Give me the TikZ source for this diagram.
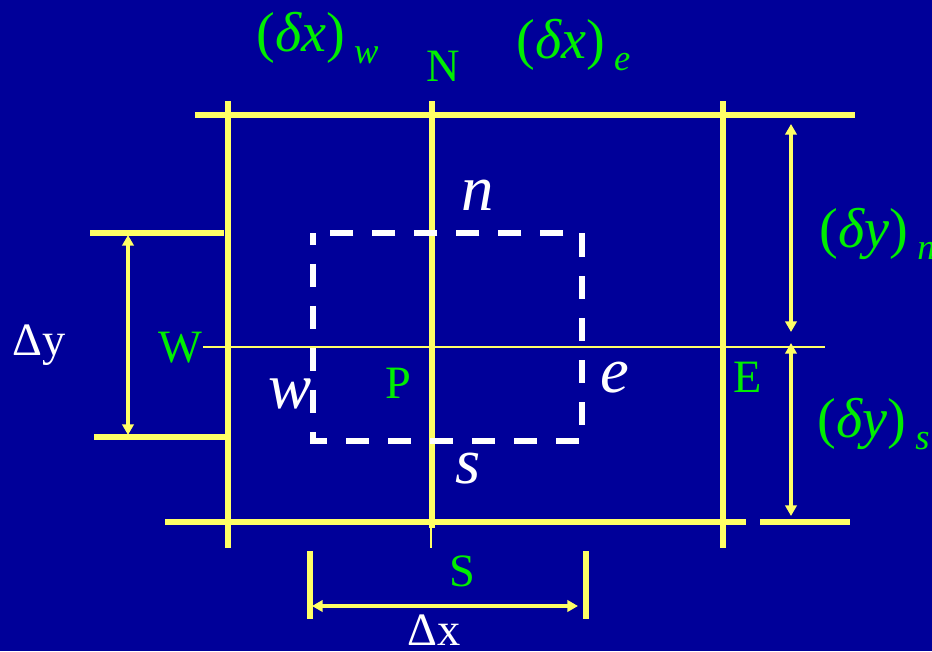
\documentclass[tikz,border=0pt]{standalone}
\usepackage{fontspec}
\setmainfont{Liberation Serif}
\usetikzlibrary{arrows.meta}
\definecolor{cvBack}{HTML}{000099}
\definecolor{cvLine}{HTML}{FFFF66}
\definecolor{cvGreen}{HTML}{00EE00}
\newcommand{\lowsub}[1]{\,\raisebox{-9pt}{\fontsize{26}{26}\selectfont\itshape #1}}

\begin{document}
\begin{tikzpicture}[x=0.025cm, y=-0.025cm,
    gridline/.style={cvLine, line width=3.6pt},
    midline/.style={cvLine, line width=1.3pt},
    cvbox/.style={white, line width=3.6pt, dash pattern=on 16.4pt off 13.5pt, dash phase=8pt},
    dim/.style={{Triangle[length=7.5pt,width=8pt]}-{Triangle[length=7.5pt,width=8pt]}, cvLine, line width=2.9pt},
    pnt/.style={text=cvGreen, font=\fontsize{33}{33}\selectfont, inner sep=0pt, anchor=base west},
    face/.style={text=white, font=\fontsize{46}{46}\selectfont\itshape, inner sep=0pt, anchor=base west},
    dlab/.style={text=cvGreen, font=\fontsize{40}{40}\selectfont, inner sep=0pt, anchor=base west},
    dwhite/.style={text=white, font=\fontsize{33}{33}\selectfont, inner sep=0pt, anchor=base west}]
  \fill[cvBack] (0,0) rectangle (932,651);
  \useasboundingbox (0,0) rectangle (932,651);

  % grid lines
  \draw[gridline] (195,115) -- (855,115);
  \draw[gridline] (165,522) -- (746,522);
  \draw[gridline] (760,522) -- (850,522);
  \draw[gridline] (228,101) -- (228,548);
  \draw[gridline] (432,101) -- (432,528);
  \draw[cvLine, line width=0.8pt] (431,528) -- (431,548);
  \draw[gridline] (723,101) -- (723,548);
  \draw[midline] (203,347) -- (825,347);
  \draw[gridline] (90,233) -- (224,233);
  \draw[gridline] (94,437) -- (226,437);
  \draw[gridline] (310,551) -- (310,619);
  \draw[gridline] (586,551) -- (586,619);

  % control volume
  \draw[cvbox] (313,233) rectangle (582,441);

  % dimension arrows
  \coordinate (dyTop) at (128,235);
  \coordinate (dyBot) at (128,435);
  \coordinate (dnTop) at (791,124);
  \coordinate (dnBot) at (791,332);
  \coordinate (dsTop) at (791,343);
  \coordinate (dsBot) at (791,516);
  \coordinate (dxL) at (312,606);
  \coordinate (dxR) at (578,606);
  \draw[dim] (dyTop) -- (dyBot);
  \draw[dim] (dnTop) -- (dnBot);
  \draw[dim] (dsTop) -- (dsBot);
  \draw[dim] (dxL) -- (dxR);

  % labels
  \node[pnt] (lblN) at (426,81) {N};
  \node[pnt] (lblW) at (158,362) {W};
  \node[pnt] (lblP) at (385,398) {P};
  \node[pnt] (lblE) at (733,392) {E};
  \node[pnt] (lblS) at (449,586) {S};
  \node[face] (fcn) at (461,210) {n};
  \node[face] (fcw) at (268,408) {w};
  \node[face] (fce) at (600,392) {e};
  \node[face] (fcs) at (455,483) {s};
  \node[dlab] (dxw) at (256,51) {(\textit{δx})\lowsub{w}};
  \node[dlab] (dxe) at (516,58) {(\textit{δx})\lowsub{e}};
  \node[dlab] (dyn) at (819,247) {(\textit{δy})\lowsub{n}};
  \node[dlab] (dys) at (817,437) {(\textit{δy})\lowsub{s}};
  \node[dwhite] (lblDy) at (12,355) {Δy};
  \node[dwhite] (lblDx) at (407,645) {Δx};
\end{tikzpicture}
\end{document}
